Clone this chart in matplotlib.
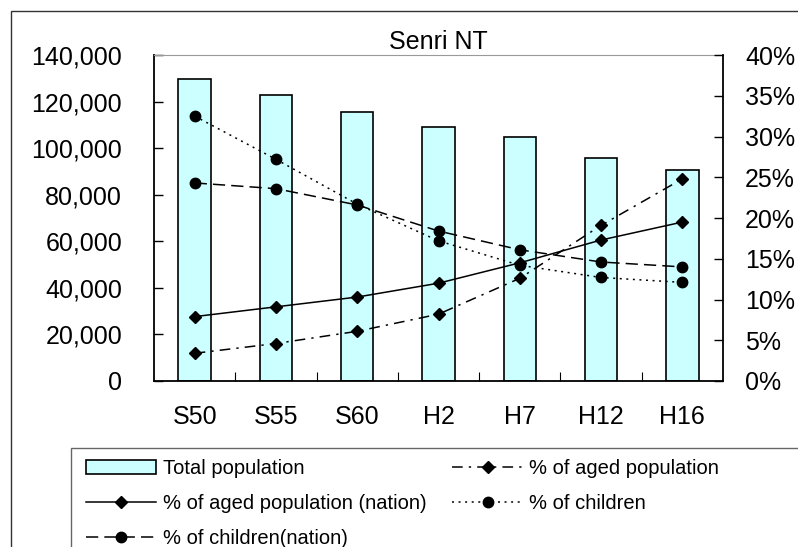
import matplotlib
matplotlib.use("Agg")
import matplotlib.pyplot as plt
from matplotlib.patches import Rectangle
from matplotlib.ticker import FuncFormatter, MultipleLocator, FixedLocator

plt.rcParams['font.family'] = ['Liberation Sans', 'DejaVu Sans']

# Data
years = ['S50', 'S55', 'S60', 'H2', 'H7', 'H12', 'H16']
total_population = [129600, 122800, 115500, 109000, 104600, 95600, 90500]
aged_pct = [3.4, 4.6, 6.1, 8.2, 12.6, 19.1, 24.8]
aged_nation_pct = [7.9, 9.1, 10.3, 12.0, 14.5, 17.3, 19.5]
children_pct = [32.5, 27.2, 21.7, 17.2, 14.2, 12.7, 12.1]
children_nation_pct = [24.3, 23.6, 21.6, 18.4, 16.1, 14.6, 14.0]

W, H = 798, 547
fig = plt.figure(figsize=(W / 100, H / 100), dpi=100)
ax = fig.add_axes([154 / W, 1 - 381 / H, (723 - 154) / W, (381 - 55) / H])
ax2 = ax.twinx()

x = list(range(len(years)))

# Bars
bars = ax.bar(x, total_population, width=0.4, color='#CCFFFF',
              edgecolor='black', linewidth=1.2, label='Total population', zorder=2)

# Lines on the percent axis
l_aged, = ax2.plot(x, aged_pct, color='black', lw=1.1, marker='D', ms=5.8,
                   linestyle=(0, (7, 4, 1.5, 4)), label='% of aged population')
l_aged_n, = ax2.plot(x, aged_nation_pct, color='black', lw=1.1, marker='D', ms=5.8,
                     linestyle='-', label='% of aged population (nation)')
l_child, = ax2.plot(x, children_pct, color='black', lw=1.1, marker='o', ms=7.5,
                    linestyle=(0, (1.3, 3)), label='% of children')
l_child_n, = ax2.plot(x, children_nation_pct, color='black', lw=1.1, marker='o', ms=7.5,
                      linestyle=(0, (8, 4)), label='% of children(nation)')

# Axes limits and ticks
ax.set_xlim(-0.5, len(years) - 0.5)
ax.set_ylim(0, 140000)
ax2.set_ylim(0, 40)

ax.yaxis.set_major_locator(MultipleLocator(20000))
ax.yaxis.set_major_formatter(FuncFormatter(lambda v, p: f'{v:,.0f}'))
ax2.yaxis.set_major_locator(MultipleLocator(5))
ax2.yaxis.set_major_formatter(FuncFormatter(lambda v, p: f'{v:.0f}%'))

ax.set_xticks(x)
ax.set_xticklabels(years)
ax.xaxis.set_minor_locator(FixedLocator([i + 0.5 for i in x[:-1]]))
ax.tick_params(axis='x', which='major', length=0, pad=17, labelsize=18)
ax.tick_params(axis='x', which='minor', direction='in', length=6.5, width=0.8)
ax.tick_params(axis='y', direction='in', length=6.5, width=1.0, pad=23, labelsize=18)
ax2.tick_params(axis='y', direction='in', length=6.5, width=1.0, pad=16, labelsize=18)

# Spines
for a in (ax, ax2):
    for s in a.spines.values():
        s.set_visible(False)
ax.spines['left'].set_visible(True)
ax.spines['bottom'].set_visible(True)
ax.spines['top'].set_visible(True)
ax.spines['left'].set_linewidth(1.3)
ax.spines['bottom'].set_linewidth(1.3)
ax.spines['top'].set_color('#999999')
ax.spines['top'].set_linewidth(0.8)
ax2.spines['right'].set_visible(True)
ax2.spines['right'].set_linewidth(1.3)

ax.set_title('Senri NT', fontsize=18, pad=4)

# Outer chart frame and legend box (cropped at right and bottom)
fig.patches.append(Rectangle((10.5 / W, -0.05), 1.0, 1 - 10.5 / H + 0.05,
                             transform=fig.transFigure, fill=False,
                             edgecolor='#333333', lw=1.0))
fig.patches.append(Rectangle((71 / W, -0.05), 1.0, 1 - 448 / H + 0.05,
                             transform=fig.transFigure, fill=False,
                             edgecolor='#666666', lw=1.0))

handles = [bars, l_aged_n, l_child_n, l_aged, l_child]
labels = [h.get_label() for h in handles]
fig.legend(handles, labels, loc='upper left',
           bbox_to_anchor=(86 / W, 1 - 459 / H), ncol=2, frameon=False,
           fontsize=14.5, numpoints=1, handlelength=3.5, handletextpad=0.3,
           columnspacing=1.3, labelspacing=0.8, borderpad=0, borderaxespad=0)

fig.savefig('out.png', dpi=100)
